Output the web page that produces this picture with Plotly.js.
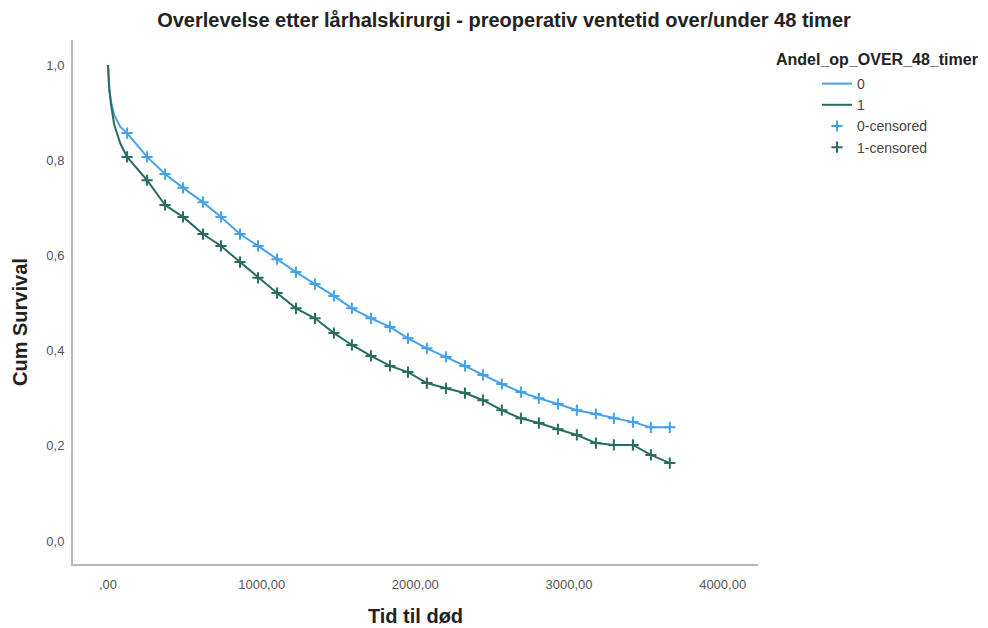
<!DOCTYPE html>
<html>
<head>
<meta charset="utf-8">
<script src="https://cdn.plot.ly/plotly-3.0.1.min.js"></script>
<style>html,body{margin:0;padding:0;background:#fff;}#chart{width:988px;height:628px;}</style>
</head>
<body>
<div id="chart"></div>
<script>
// Early (steep) part of the curves, days
const earlyTimes = [0, 8, 20, 40, 80];
const earlySurv0 = [1.0, 0.95, 0.922, 0.895, 0.870];
const earlySurv1 = [1.0, 0.95, 0.915, 0.875, 0.835];

// Censoring marks (days) and survival at those marks
const censTimes = [124, 254, 371, 488, 618, 735, 859, 976, 1100, 1223, 1347, 1470, 1587, 1711, 1835, 1952, 2075, 2199, 2323, 2440, 2563, 2687, 2804, 2928, 3051, 3175, 3292, 3416, 3533, 3656];
const censSurv0 = [0.857, 0.807, 0.771, 0.742, 0.712, 0.681, 0.645, 0.620, 0.592, 0.565, 0.540, 0.515, 0.489, 0.468, 0.450, 0.426, 0.405, 0.387, 0.368, 0.349, 0.330, 0.313, 0.300, 0.288, 0.275, 0.267, 0.258, 0.250, 0.239, 0.239];
const censSurv1 = [0.807, 0.758, 0.706, 0.681, 0.645, 0.620, 0.586, 0.553, 0.521, 0.489, 0.468, 0.437, 0.412, 0.389, 0.368, 0.355, 0.332, 0.321, 0.311, 0.296, 0.275, 0.258, 0.248, 0.235, 0.223, 0.206, 0.202, 0.202, 0.181, 0.164];

const xTickVals = [0, 1000, 2000, 3000, 4000];
const xTickText = [",00", "1000,00", "2000,00", "3000,00", "4000,00"];
const yTickVals = [0, 0.2, 0.4, 0.6, 0.8, 1.0];
const yTickText = ["0,0", "0,2", "0,4", "0,6", "0,8", "1,0"];

const groupNames = ["0", "1"];
const colors = ["#45a2ea", "#286c62"];

const curveT = earlyTimes.concat(censTimes);
const curves = [earlySurv0.concat(censSurv0), earlySurv1.concat(censSurv1)];
const cens = [censSurv0, censSurv1];

const traces = [];
for (let g = 0; g < 2; g++) {
  traces.push({
    x: curveT, y: curves[g], mode: 'lines', name: groupNames[g],
    line: {color: colors[g], width: 2}, hoverinfo: 'skip'
  });
}
for (let g = 0; g < 2; g++) {
  traces.push({
    x: censTimes, y: cens[g], mode: 'markers', name: groupNames[g] + '-censored',
    marker: {symbol: 'cross-thin', size: 8, color: colors[g], line: {color: colors[g], width: 2}},
    hoverinfo: 'skip'
  });
}

const font = "Liberation Sans, Arial, sans-serif";
const layout = {
  width: 988, height: 628,
  margin: {l: 73, r: 230, t: 40, b: 64},
  paper_bgcolor: '#fff', plot_bgcolor: '#fff',
  font: {family: font, color: '#444'},
  title: {text: 'Overlevelse etter lårhalskirurgi - preoperativ ventetid over/under 48 timer',
          font: {family: font, size: 20, color: '#222', weight: 'bold'},
          x: 504/988, xanchor: 'center', y: 1 - 20/628, yanchor: 'middle'},
  xaxis: {
    range: [-228, 4230], tickvals: xTickVals, ticktext: xTickText,
    showline: true, linecolor: '#b8b8b8', linewidth: 2, showgrid: false, zeroline: false,
    ticks: '', ticklabelstandoff: 7, tickfont: {size: 13, color: '#555'},
    title: {text: 'Tid til død', font: {size: 20, color: '#222', weight: 'bold'}, standoff: 18}
  },
  yaxis: {
    range: [-0.048, 1.0525], tickvals: yTickVals, ticktext: yTickText,
    showline: true, linecolor: '#b8b8b8', linewidth: 2, showgrid: false, zeroline: false,
    ticks: '', ticklabelstandoff: 4, tickfont: {size: 13, color: '#555'}
  },
  showlegend: true,
  legend: {
    x: (817 - 73) / 685, xanchor: 'left', y: (564 - 68) / 524, yanchor: 'top',
    font: {size: 14, color: '#444'}, bgcolor: 'rgba(0,0,0,0)', tracegroupgap: 0,
    itemwidth: 30
  },
  annotations: [{
    text: 'Andel_op_OVER_48_timer', xref: 'paper', yref: 'paper',
    x: (774 - 73) / 685, xanchor: 'left', y: (564 - 60) / 524, yanchor: 'middle',
    showarrow: false, font: {size: 16, color: '#222', weight: 'bold'}
  }, {
    text: 'Cum Survival', xref: 'paper', yref: 'paper', textangle: -90,
    x: (20 - 73) / 685, xanchor: 'center', y: (564 - 322) / 524, yanchor: 'middle',
    showarrow: false, font: {size: 20, color: '#222', weight: 'bold'}
  }]
};

Plotly.newPlot('chart', traces, layout, {displayModeBar: false, staticPlot: true});
</script>
</body>
</html>
